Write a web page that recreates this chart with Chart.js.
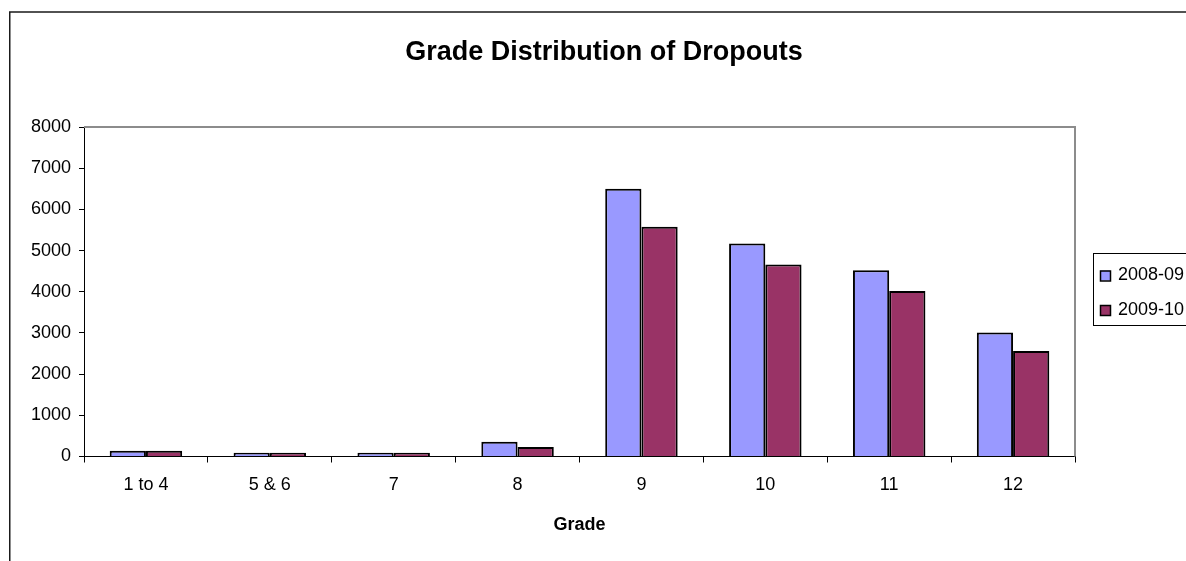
<!DOCTYPE html>
<html>
<head>
<meta charset="utf-8">
<script src="https://cdn.jsdelivr.net/npm/chart.js@4/dist/chart.umd.min.js"></script>
<style>
  html, body { margin: 0; padding: 0; background: #fff; overflow: hidden; }
  #wrap { width: 1186px; height: 561px; position: relative; }
</style>
</head>
<body>
<div id="wrap"><canvas id="c" width="1186" height="561"></canvas></div>
<script>
const chartTitle = 'Grade Distribution of Dropouts';
const xAxisTitle = 'Grade';
const categories = ['1 to 4', '5 & 6', '7', '8', '9', '10', '11', '12'];
const seriesNames = ['2008-09', '2009-10'];
const values2008 = [140, 90, 90, 360, 6500, 5170, 4520, 3010];
const values2009 = [140, 90, 90, 230, 5580, 4660, 4020, 2560];
const yTickMin = 0;
const yTickMax = 8000;
const yTickStep = 1000;

const FONT = '"Liberation Sans", Arial, sans-serif';
const colors = ['#9999FF', '#993366'];

const framePlugin = {
  id: 'frame',
  beforeDraw(chart) {
    const ctx = chart.ctx;
    ctx.save();
    ctx.fillStyle = '#fff';
    ctx.fillRect(0, 0, chart.width, chart.height);
    // outer chart frame (cut at right & bottom)
    ctx.strokeStyle = '#1a1a1a';
    ctx.lineWidth = 1.5;
    ctx.beginPath();
    ctx.moveTo(9.75, chart.height + 2);
    ctx.lineTo(9.75, 12);
    ctx.lineTo(chart.width + 2, 12);
    ctx.stroke();
    // title
    ctx.fillStyle = '#000';
    ctx.font = 'bold 27px ' + FONT;
    ctx.textAlign = 'center';
    ctx.textBaseline = 'middle';
    ctx.fillText(chartTitle, 604, 53);
    ctx.restore();
  },
  afterDraw(chart) {
    const ctx = chart.ctx;
    const a = chart.chartArea;
    ctx.save();
    // plot area top & right border (gray)
    ctx.strokeStyle = '#8c8c8c';
    ctx.lineWidth = 2;
    ctx.beginPath();
    ctx.moveTo(a.left, a.top);
    ctx.lineTo(a.right, a.top);
    ctx.lineTo(a.right, a.bottom);
    ctx.stroke();
    // legend
    const lx = 1093.5, ly = 253.5, lh = 72;
    ctx.strokeStyle = '#000';
    ctx.lineWidth = 1;
    ctx.fillStyle = '#fff';
    ctx.fillRect(lx, ly, 200, lh);
    ctx.strokeRect(lx, ly, 200, lh);
    ctx.font = '18px ' + FONT;
    ctx.textAlign = 'left';
    ctx.textBaseline = 'middle';
    chart.data.datasets.forEach((ds, i) => {
      const cy = 275.5 + i * 34.5;
      ctx.fillStyle = ds.backgroundColor;
      ctx.fillRect(1100, cy - 5, 10, 10);
      ctx.strokeStyle = '#000';
      ctx.lineWidth = 1.5;
      ctx.strokeRect(1100.5, cy - 4.5, 10, 10);
      ctx.fillStyle = '#000';
      ctx.fillText(ds.label, 1118, cy);
    });
    ctx.restore();
  }
};

new Chart(document.getElementById('c'), {
  type: 'bar',
  data: {
    labels: categories,
    datasets: [
      { label: seriesNames[0], data: values2008, backgroundColor: colors[0], borderColor: '#000', borderWidth: 2, borderSkipped: 'bottom' },
      { label: seriesNames[1], data: values2009, backgroundColor: colors[1], borderColor: '#000', borderWidth: 2, borderSkipped: 'bottom' }
    ]
  },
  options: {
    responsive: false,
    animation: false,
    devicePixelRatio: 1,
    layout: { padding: { left: 0, right: 111, top: 127, bottom: 0 } },
    datasets: { bar: { categoryPercentage: 0.585, barPercentage: 1.0 } },
    plugins: {
      legend: { display: false },
      title: { display: false },
      tooltip: { enabled: false }
    },
    scales: {
      x: {
        offset: true,
        grid: { offset: true, drawOnChartArea: false, drawTicks: true, tickLength: 6, color: '#000', lineWidth: 1 },
        border: { display: true, color: '#000', width: 1 },
        ticks: { color: '#000', font: { family: FONT, size: 18 }, padding: 12, maxRotation: 0, autoSkip: false },
        title: { display: true, text: xAxisTitle, color: '#000', font: { family: FONT, size: 18, weight: 'bold' }, padding: { top: 0, bottom: 25 } },
        afterFit(scale) { scale.height = 104.5; }
      },
      y: {
        min: yTickMin,
        max: yTickMax,
        grid: { drawOnChartArea: false, drawTicks: true, tickLength: 5, color: '#000', lineWidth: 1 },
        border: { display: true, color: '#000', width: 1 },
        ticks: { stepSize: yTickStep, color: '#000', font: { family: FONT, size: 18 }, padding: 8, callback: (v) => String(v) },
        afterFit(scale) { scale.width = 84; }
      }
    }
  },
  plugins: [framePlugin]
});
</script>
</body>
</html>
